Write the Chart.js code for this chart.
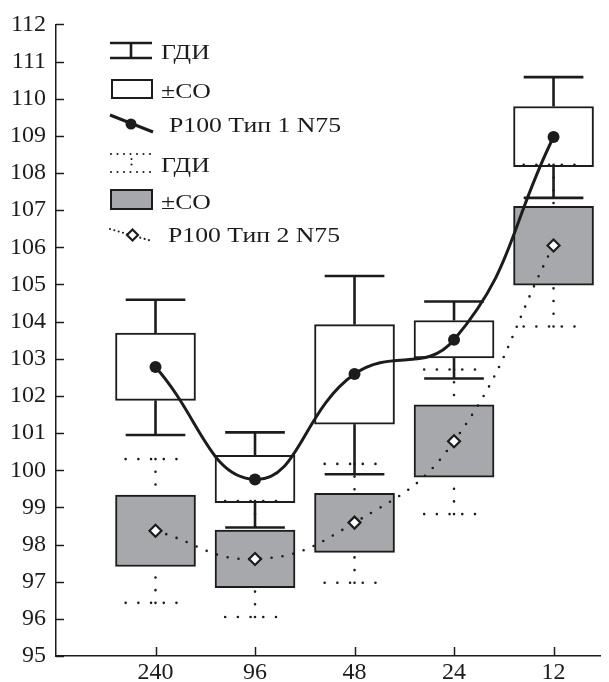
<!DOCTYPE html>
<html><head><meta charset="utf-8">
<script src="https://cdn.jsdelivr.net/npm/chart.js@4/dist/chart.umd.min.js"></script>
<style>html,body{margin:0;padding:0;background:#fff}#wrap{width:609px;height:682px}</style>
</head><body><div id="wrap"><canvas id="c" width="609" height="682"></canvas></div>
<script>
// ---- data ----
const categories = ['240', '96', '48', '24', '12'];

const type1Mean   = [102.78, 99.75, 102.59, 103.51, 108.97];
const type1SdLow  = [101.88, 99.13, 101.24, 103.02, 108.17];
const type1SdHigh = [103.69, 100.40, 103.92, 104.03, 109.79];
const type1CiLow  = [100.95, 98.46, 99.89, 102.47, 107.33];
const type1CiHigh = [104.59, 101.02, 105.23, 104.54, 110.58];

const type2Mean   = [98.37, 97.61, 98.59, 100.78, 106.05];
const type2SdLow  = [97.41, 96.84, 97.79, 99.81, 104.98];
const type2SdHigh = [99.33, 98.39, 99.38, 101.76, 107.10];
const type2CiLow  = [96.43, 96.05, 96.97, 98.82, 103.87];
const type2CiHigh = [100.30, 99.17, 100.17, 102.71, 108.22];

const yMin = 95, yMax = 112;
const legendLabels = ['ГДИ', '±СО', 'Р100 Тип 1 N75', 'ГДИ', '±СО', 'Р100 Тип 2 N75'];

// ---- style ----
const INK = '#1c1c1c';
const GRAY = '#a7a8ab';
const FONT = 'Liberation Serif';

function seg(ctx, x1, y1, x2, y2) { ctx.beginPath(); ctx.moveTo(x1, y1); ctx.lineTo(x2, y2); ctx.stroke(); }

function drawWhiskers(chart, lo, sdLo, sdHi, hi, dotted) {
  const ctx = chart.ctx, xs = chart.scales.x, ys = chart.scales.y;
  const step = xs.getPixelForValue(1) - xs.getPixelForValue(0);
  const half = step * 0.3;
  ctx.save();
  ctx.strokeStyle = INK;
  if (dotted) { ctx.lineWidth = 2.6; ctx.lineCap = 'round'; ctx.setLineDash([0, 12.7]); }
  else { ctx.lineWidth = 2.6; ctx.lineCap = 'butt'; ctx.setLineDash([]); }
  categories.forEach((c, i) => {
    const x = xs.getPixelForValue(i);
    const yHi = ys.getPixelForValue(hi[i]), yBHi = ys.getPixelForValue(sdHi[i]);
    const yLo = ys.getPixelForValue(lo[i]), yBLo = ys.getPixelForValue(sdLo[i]);
    seg(ctx, x - half, yHi, x + half, yHi); seg(ctx, x, yHi, x, yBHi);
    seg(ctx, x - half, yLo, x + half, yLo); seg(ctx, x, yLo, x, yBLo);
  });
  ctx.restore();
}

const whiskerPlugin = {
  id: 'whiskers',
  afterDatasetsDraw(chart) {
    drawWhiskers(chart, type1CiLow, type1SdLow, type1SdHigh, type1CiHigh, false);
    drawWhiskers(chart, type2CiLow, type2SdLow, type2SdHigh, type2CiHigh, true);
  }
};

const tickPlugin = {
  id: 'inwardTicks',
  afterDraw(chart) {
    const ctx = chart.ctx, xs = chart.scales.x, ys = chart.scales.y, a = chart.chartArea;
    ctx.save(); ctx.strokeStyle = INK; ctx.lineWidth = 1.5;
    ys.ticks.forEach(t => { const y = Math.round(ys.getPixelForValue(t.value)) + 0.5; seg(ctx, a.left, y, a.left + 8, y); });
    xs.ticks.forEach(t => { const x = Math.round(xs.getPixelForValue(t.value)) + 0.5; seg(ctx, x, a.bottom, x, a.bottom - 9); });
    ctx.restore();
  }
};

const legendPlugin = {
  id: 'customLegend',
  afterDraw(chart) {
    const ctx = chart.ctx;
    ctx.save();
    ctx.strokeStyle = INK; ctx.fillStyle = INK;
    // 1: solid whisker
    ctx.lineWidth = 2.6;
    seg(ctx, 110, 43, 152, 43); seg(ctx, 110, 58, 152, 58); seg(ctx, 131, 43, 131, 58);
    // 2: white box
    ctx.lineWidth = 2; ctx.strokeRect(112, 80, 40, 18);
    // 3: solid line with dot
    ctx.lineWidth = 3; seg(ctx, 110, 115, 153, 132);
    ctx.beginPath(); ctx.arc(131, 124, 5.5, 0, Math.PI * 2); ctx.fill();
    // 4: dotted whisker
    ctx.lineWidth = 2.1; ctx.lineCap = 'round'; ctx.setLineDash([0, 6.5]);
    seg(ctx, 111, 154, 151, 154); seg(ctx, 111, 172, 151, 172);
    ctx.setLineDash([0, 5.5]); seg(ctx, 131.5, 159, 131.5, 168);
    ctx.setLineDash([]); ctx.lineCap = 'butt';
    // 5: gray box
    ctx.fillStyle = GRAY; ctx.fillRect(111, 190, 41, 19);
    ctx.lineWidth = 2; ctx.strokeRect(111, 190, 41, 19);
    // 6: dotted line with diamond
    ctx.lineWidth = 2.1; ctx.lineCap = 'round'; ctx.setLineDash([0, 4.5]);
    seg(ctx, 110, 229, 152, 241);
    ctx.setLineDash([]); ctx.lineCap = 'butt';
    ctx.beginPath();
    ctx.moveTo(132.5, 229.5); ctx.lineTo(138, 235); ctx.lineTo(132.5, 240.5); ctx.lineTo(127, 235); ctx.closePath();
    ctx.fillStyle = '#fff'; ctx.fill(); ctx.lineWidth = 2.2; ctx.stroke();
    // texts (horizontally stretched serif like the reference)
    ctx.fillStyle = INK; ctx.font = '22px "' + FONT + '"'; ctx.textBaseline = 'alphabetic'; ctx.textAlign = 'left';
    const sx = 1.17;
    const tx = [161, 161, 169, 161, 161, 168];
    const ty = [58.5, 98, 131.5, 172, 208.5, 242];
    legendLabels.forEach((t, i) => {
      ctx.save(); ctx.translate(tx[i], ty[i]); ctx.scale(sx, 1); ctx.fillText(t, 0, 0); ctx.restore();
    });
    ctx.restore();
  }
};

const boxData = (lo, hi) => categories.map((c, i) => ({ x: i, y: [lo[i], hi[i]] }));
const meanData = (m) => categories.map((c, i) => ({ x: i, y: m[i] }));

new Chart(document.getElementById('c'), {
  data: {
    datasets: [
      { type: 'bar', label: '±СО', data: boxData(type1SdLow, type1SdHigh), backgroundColor: '#fff',
        borderColor: INK, borderWidth: 2, borderSkipped: false, barThickness: 80, grouped: false, order: 3 },
      { type: 'bar', label: '±СО', data: boxData(type2SdLow, type2SdHigh), backgroundColor: GRAY,
        borderColor: INK, borderWidth: 2, borderSkipped: false, barThickness: 80, grouped: false, order: 2 },
      { type: 'line', label: 'Р100 Тип 2 N75', data: meanData(type2Mean), borderColor: INK, borderWidth: 2.6,
        borderDash: [0, 11], borderCapStyle: 'round', tension: 0.45, fill: false,
        pointStyle: 'rectRot', pointRadius: 6, pointBackgroundColor: '#fff', pointBorderColor: INK, pointBorderWidth: 2.2, order: 1 },
      { type: 'line', label: 'Р100 Тип 1 N75', data: meanData(type1Mean), borderColor: INK, borderWidth: 3,
        tension: 0.45, fill: false, pointStyle: 'circle', pointRadius: 6, pointBackgroundColor: INK, pointBorderWidth: 0, order: 0 }
    ]
  },
  options: {
    responsive: false, animation: false, events: [],
    layout: { padding: { top: 20, right: 0, left: 0, bottom: 0 } },
    plugins: { legend: { display: false }, tooltip: { enabled: false } },
    scales: {
      x: {
        type: 'linear', min: -1, max: 4.475, offset: false,
        afterBuildTicks: (s) => { s.ticks = categories.map((c, i) => ({ value: i })); },
        ticks: { callback: (v) => categories[v], font: { family: FONT, size: 24 }, color: INK, padding: 2, autoSkip: false, maxRotation: 0 },
        grid: { display: false, drawTicks: false, offset: false },
        border: { display: true, color: INK, width: 1.5 },
        afterFit: (s) => { s.height = 26; }
      },
      y: {
        type: 'linear', min: yMin, max: yMax,
        ticks: { stepSize: 1, font: { family: FONT, size: 24 }, color: INK, padding: 10 },
        grid: { display: false, drawTicks: false },
        border: { display: true, color: INK, width: 1.5 },
        afterFit: (s) => { s.width = 56; }
      }
    }
  },
  plugins: [whiskerPlugin, tickPlugin, legendPlugin]
});
</script>
</body></html>
